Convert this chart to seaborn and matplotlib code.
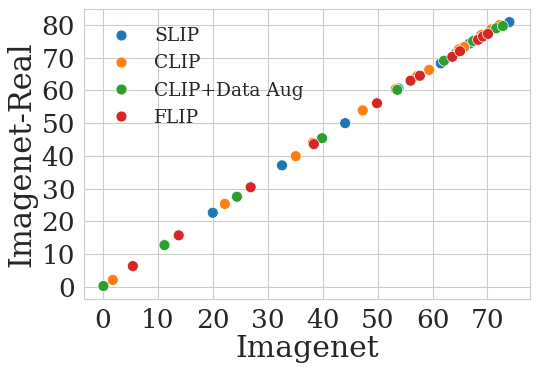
import matplotlib
matplotlib.use("Agg")
import matplotlib.pyplot as plt
import pandas as pd
import seaborn as sns

# values
methods = ["SLIP", "CLIP", "CLIP+Data Aug", "FLIP"]

slip_imagenet = [20.0, 32.6, 44.1, 53.8, 61.5, 64.4, 66.7, 74.0]
slip_real = [22.6, 37.1, 50.0, 60.6, 68.3, 71.6, 74.3, 80.9]

clip_imagenet = [1.8, 22.2, 35.1, 38.2, 47.3, 53.3, 57.2, 59.4, 64.8, 65.8, 68.9, 70.7, 72.2]
clip_real = [2.05, 25.3, 39.9, 44.0, 53.9, 60.4, 64.4, 66.3, 72.6, 73.3, 77.0, 78.7, 80.0]

aug_imagenet = [0.1, 11.2, 24.4, 39.9, 53.6, 62.1, 67.4, 71.6, 72.8]
aug_real = [0.2, 12.7, 27.5, 45.4, 60.2, 69.1, 75.1, 79.0, 79.7]

flip_imagenet = [5.45, 13.8, 26.9, 38.4, 49.9, 56.0, 57.7, 63.6, 65.0, 68.3, 69.2, 70.1]
flip_real = [6.3, 15.7, 30.4, 43.6, 56.1, 63.0, 64.5, 70.3, 72.0, 75.5, 76.5, 77.3]

xs = [slip_imagenet, clip_imagenet, aug_imagenet, flip_imagenet]
ys = [slip_real, clip_real, aug_real, flip_real]

frames = []
for name, x, y in zip(methods, xs, ys):
    frames.append(pd.DataFrame({"Imagenet": x, "Imagenet-Real": y, "method": name}))
df = pd.concat(frames, ignore_index=True)

sns.set_style("whitegrid")
plt.rcParams["font.family"] = ["DejaVu Serif"]

fig, ax = plt.subplots(figsize=(5.4, 3.75), dpi=100)
fig.subplots_adjust(left=0.156, right=0.981, top=0.975, bottom=0.202)

sns.scatterplot(data=df, x="Imagenet", y="Imagenet-Real", hue="method",
                hue_order=methods, palette="tab10", s=62, linewidth=0.5,
                edgecolor="white", ax=ax)

ax.set_xlim(-3.4, 77.7)
ax.set_ylim(-3.85, 84.8)
ax.set_xticks(range(0, 80, 10))
ax.set_yticks(range(0, 90, 10))
ax.tick_params(labelsize=19, pad=3)
ax.set_xlabel("Imagenet", fontsize=21.5, labelpad=1)
ax.set_ylabel("Imagenet-Real", fontsize=22, labelpad=3)

ax.legend(loc="upper left", frameon=False, fontsize=13.4, handletextpad=0.8,
          borderaxespad=0.45, labelspacing=0.5, markerscale=1.0,
          borderpad=0.5)

fig.savefig("out.png", dpi=100)
